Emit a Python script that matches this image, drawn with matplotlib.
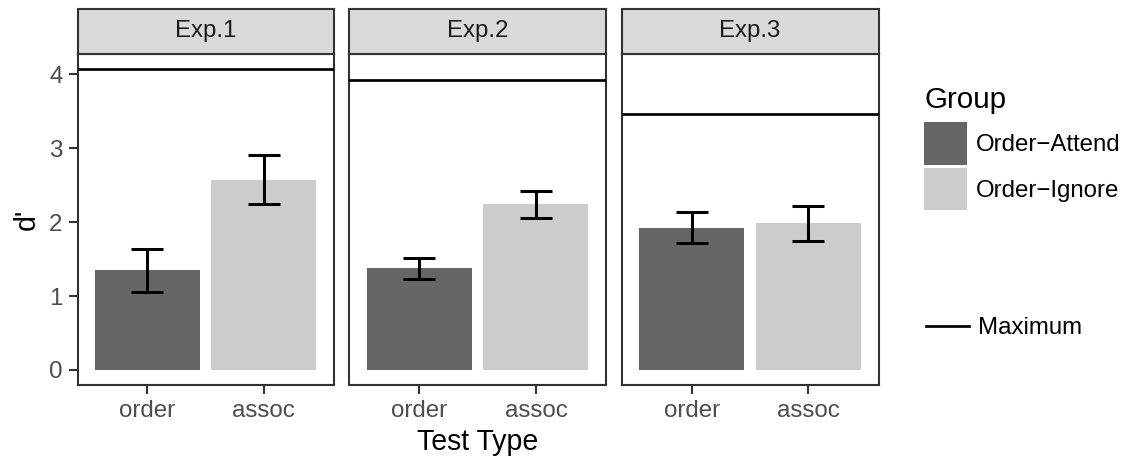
import matplotlib

matplotlib.use("Agg")
import matplotlib.pyplot as plt
from matplotlib.patches import Patch
from matplotlib.lines import Line2D

# --- data -------------------------------------------------------------------
experiments = ["Exp.1", "Exp.2", "Exp.3"]
test_types = ["order", "assoc"]
groups = ["Order\u2212Attend", "Order\u2212Ignore"]
dprime = [[1.35, 2.57], [1.38, 2.24], [1.92, 1.99]]
err_low = [[1.06, 2.25], [1.23, 2.06], [1.71, 1.75]]
err_high = [[1.64, 2.90], [1.52, 2.42], [2.135, 2.22]]
maximum = [4.065, 3.92, 3.455]
y_ticks = [0, 1, 2, 3, 4]

# --- style ------------------------------------------------------------------
DARK = "#666666"
LIGHT = "#CCCCCC"
STRIP = "#D9D9D9"
BORDER = "#333333"
TICKTXT = "#4D4D4D"
bar_colors = [DARK, LIGHT]

plt.rcParams.update({
    "font.family": "sans-serif",
    "font.sans-serif": ["Liberation Sans", "Arial", "DejaVu Sans"],
})

W, H = 1125, 458
fig = plt.figure(figsize=(W / 150, H / 150), dpi=150)


def px_box(left, top, right, bottom):
    return [left / W, 1 - bottom / H, (right - left) / W, (bottom - top) / H]


panel_x = [(77.5, 333.5), (349, 606), (621.5, 878.5)]
strip_top, panel_top, panel_bottom = 8.5, 54.3, 385

ymin, ymax = -0.2033, 4.268

for i, exp in enumerate(experiments):
    left, right = panel_x[i]
    ax = fig.add_axes(px_box(left, panel_top, right, panel_bottom))
    xs = [1, 2]
    ax.bar(xs, dprime[i], width=0.9, color=bar_colors, zorder=2)
    lo = [d - l for d, l in zip(dprime[i], err_low[i])]
    hi = [h - d for d, h in zip(dprime[i], err_high[i])]
    ax.errorbar(xs, dprime[i], yerr=[lo, hi], fmt="none", ecolor="black",
                elinewidth=1.45, capsize=7.7, capthick=1.45, zorder=3)
    ax.axhline(maximum[i], color="black", linewidth=1.3, zorder=3)
    ax.set_xlim(0.4, 2.6)
    ax.set_ylim(ymin, ymax)
    ax.set_xticks(xs, test_types)
    ax.set_yticks(y_ticks)
    for sp in ax.spines.values():
        sp.set_color(BORDER)
        sp.set_linewidth(1.0)
    ax.tick_params(axis="both", color=BORDER, width=1.0, length=4.2,
                   labelsize=11.6, labelcolor=TICKTXT, pad=3)
    if i == 0:
        ax.set_ylabel("d'", fontsize=13.7, labelpad=4)
    else:
        ax.tick_params(axis="y", left=False, labelleft=False)

    sx = fig.add_axes(px_box(left, strip_top, right, panel_top))
    sx.set_facecolor(STRIP)
    sx.set_xticks([])
    sx.set_yticks([])
    for sp in sx.spines.values():
        sp.set_color(BORDER)
        sp.set_linewidth(1.0)
    sx.text(0.5, 0.5, exp, transform=sx.transAxes, ha="center", va="center",
            fontsize=11.5, color="#1A1A1A")

fig.text(478 / W, 1 - 442 / H, "Test Type", ha="center", va="center",
         fontsize=13.7)

# --- legends ----------------------------------------------------------------
group_handles = [Patch(facecolor=c, edgecolor="none") for c in bar_colors]
leg1 = fig.legend(group_handles, groups, title="Group", loc="upper left",
                  bbox_to_anchor=(924 / W, 1 - 86 / H), frameon=False,
                  fontsize=11.5, title_fontsize=14.2, handlelength=1.8,
                  handleheight=2.35, labelspacing=0.13, handletextpad=0.35,
                  borderpad=0, borderaxespad=0)
leg1._legend_box.align = "left"
leg1._legend_box.sep = 4.0  # a bit more room under the title, like ggplot

max_handle = [Line2D([], [], color="black", linewidth=1.3)]
leg2 = fig.legend(max_handle, ["Maximum"], loc="center left",
                  bbox_to_anchor=(926 / W, 1 - 328 / H), frameon=False,
                  fontsize=11.5, handlelength=1.8, handletextpad=0.35,
                  borderpad=0, borderaxespad=0)

fig.savefig("out.png", dpi=150)
